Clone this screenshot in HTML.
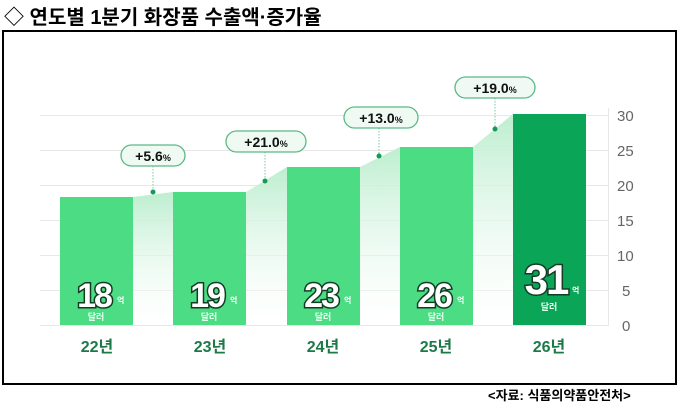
<!DOCTYPE html>
<html><head><meta charset="utf-8"><style>
body{margin:0;background:#fff;width:680px;height:409px;overflow:hidden}
svg{display:block}
</style></head><body>
<svg width="680" height="409" viewBox="0 0 680 409" xmlns="http://www.w3.org/2000/svg" font-family="Liberation Sans, Noto Sans CJK KR, sans-serif">
<defs>
<linearGradient id="ag" x1="0" y1="0" x2="0" y2="1">
<stop offset="0" stop-color="#bdeecf"/><stop offset="1" stop-color="#ffffff" stop-opacity="0.3"/>
</linearGradient>
</defs>
<text x="4" y="24" font-size="20" font-weight="bold" fill="#000">◇ 연도별 1분기 화장품 수출액·증가율</text>
<rect x="3" y="31" width="673" height="353" fill="#fff" stroke="#000" stroke-width="2"/>
<g stroke="#e8e8e8" stroke-width="1">
<line x1="40" x2="608" y1="115.5" y2="115.5"/><line x1="40" x2="608" y1="150.5" y2="150.5"/>
<line x1="40" x2="608" y1="185.5" y2="185.5"/><line x1="40" x2="608" y1="220.5" y2="220.5"/>
<line x1="40" x2="608" y1="255.5" y2="255.5"/><line x1="40" x2="608" y1="290.5" y2="290.5"/>
<line x1="40" x2="608" y1="325.5" y2="325.5"/><line x1="608.5" x2="608.5" y1="108" y2="326"/>
</g>
<g font-size="15" fill="#666">
<text x="617" y="121">30</text><text x="617" y="156">25</text><text x="617" y="191">20</text>
<text x="617" y="226">15</text><text x="617" y="261">10</text><text x="622" y="296">5</text><text x="622" y="331">0</text>
</g>
<polygon points="133,197 173,192 173,325 133,325" fill="url(#ag)"/>
<polygon points="246,192 287,167 287,325 246,325" fill="url(#ag)"/>
<polygon points="360,167 400,147 400,325 360,325" fill="url(#ag)"/>
<polygon points="473,147 513,114 513,325 473,325" fill="url(#ag)"/>
<rect x="60" y="197" width="73" height="128" fill="#4cdc84"/>
<rect x="173" y="192" width="73" height="133" fill="#4cdc84"/>
<rect x="287" y="167" width="73" height="158" fill="#4cdc84"/>
<rect x="400" y="147" width="73" height="178" fill="#4cdc84"/>
<rect x="513" y="114" width="73" height="211" fill="#0aa557"/>
<g stroke="#7cc79c" stroke-width="1" stroke-dasharray="1.5,1.5">
<line x1="153" y1="166" x2="153" y2="192"/><line x1="265" y1="152" x2="265" y2="181"/>
<line x1="379" y1="128" x2="379" y2="156"/><line x1="495" y1="98" x2="495" y2="129"/>
</g>
<g fill="#17995a"><circle cx="153" cy="192" r="2.5"/><circle cx="265" cy="181" r="2.5"/><circle cx="379" cy="156" r="2.5"/><circle cx="495" cy="129" r="2.5"/></g>
<g fill="#effaf3" stroke="#5cb886" stroke-width="1.3">
<rect x="121" y="145" width="64" height="21" rx="10.5"/>
<rect x="226" y="131" width="80" height="21" rx="10.5"/>
<rect x="344" y="107" width="74" height="21" rx="10.5"/>
<rect x="455" y="77" width="80" height="21" rx="10.5"/>
</g>
<g font-weight="bold" fill="#111" font-size="14" text-anchor="middle">
<text x="153" y="161">+5.6<tspan font-size="9">%</tspan></text>
<text x="266" y="147">+21.0<tspan font-size="9">%</tspan></text>
<text x="381" y="123">+13.0<tspan font-size="9">%</tspan></text>
<text x="495" y="93">+19.0<tspan font-size="9">%</tspan></text>
</g>
<g font-weight="bold" fill="#fff" stroke="#123b24" stroke-width="3" paint-order="stroke" font-size="34" text-anchor="middle" letter-spacing="-2">
<text x="94" y="307">18</text><text x="207" y="307">19</text><text x="321" y="307">23</text><text x="434" y="307">26</text>
<text x="546" y="294" font-size="42">31</text>
</g>
<g fill="#fff" font-size="8" font-weight="bold">
<text x="117" y="303">억</text><text x="230" y="303">억</text><text x="344" y="303">억</text><text x="457" y="303">억</text><text x="572" y="293">억</text>
</g>
<g fill="#e9fff1" font-size="9" font-weight="bold" text-anchor="middle">
<text x="96" y="320">달러</text><text x="209" y="320">달러</text><text x="323" y="320">달러</text><text x="436" y="320">달러</text><text x="549" y="310">달러</text>
</g>
<g fill="#1c7a48" font-size="16" font-weight="bold" text-anchor="middle">
<text x="97" y="352">22년</text><text x="210" y="352">23년</text><text x="323" y="352">24년</text><text x="436" y="352">25년</text><text x="549" y="352">26년</text>
</g>
<text x="488" y="400" font-size="13" font-weight="bold" fill="#000">&lt;자료: 식품의약품안전처&gt;</text>
</svg>
</body></html>
